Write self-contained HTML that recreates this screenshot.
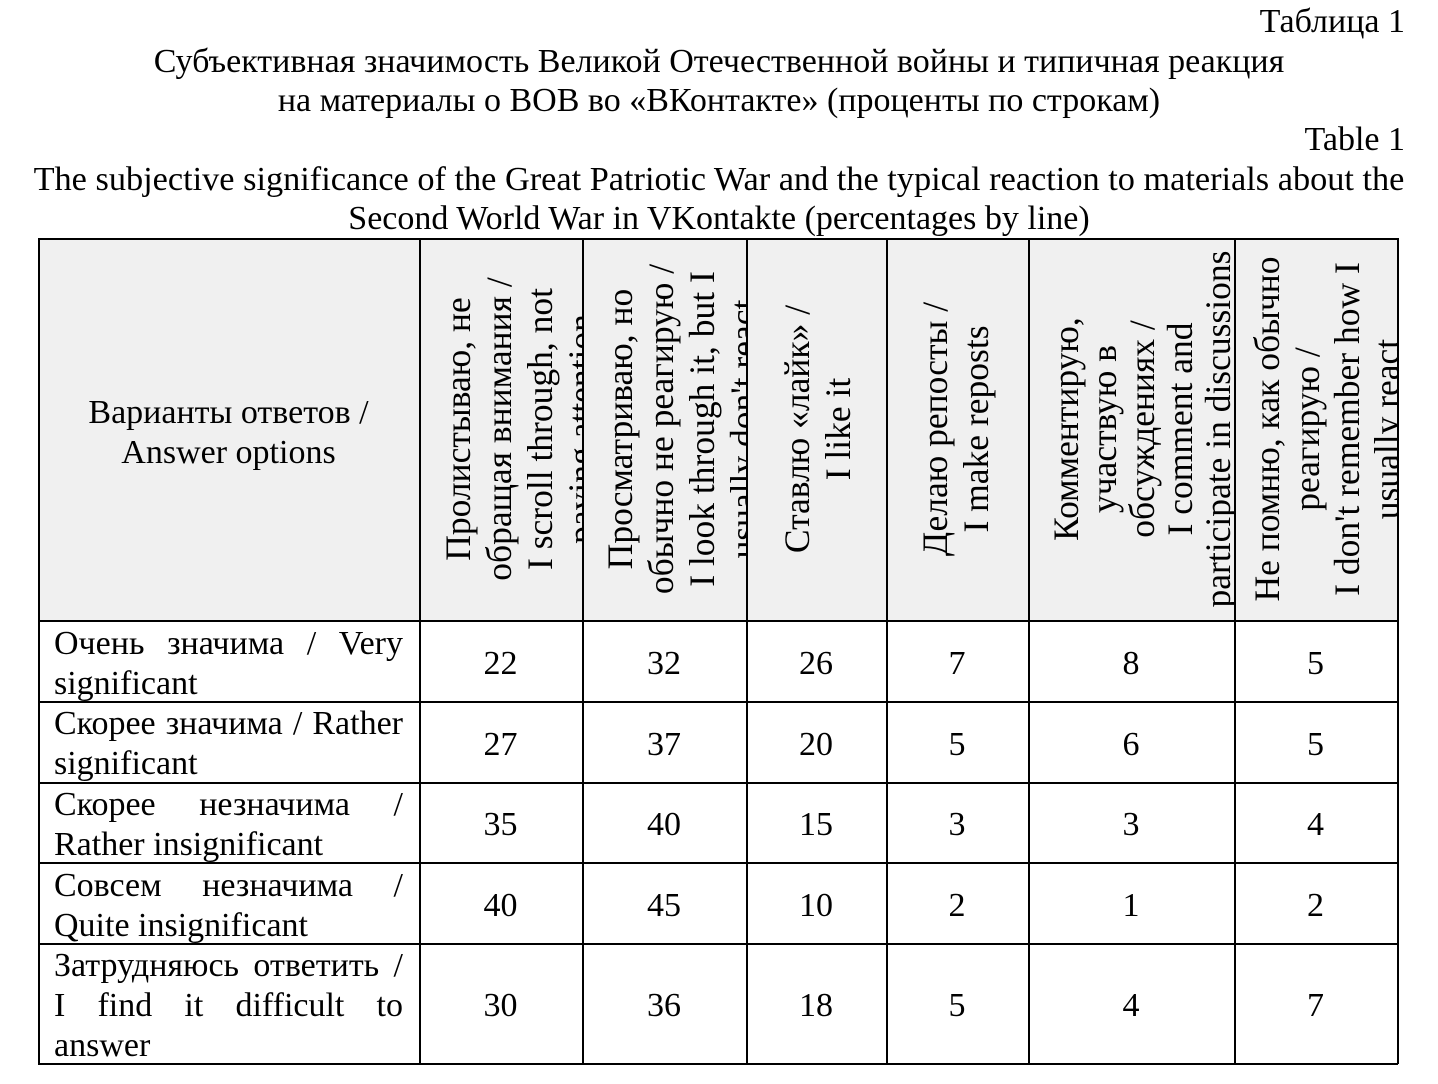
<!DOCTYPE html>
<html><head><meta charset="utf-8"><style>
body{margin:0;width:1438px;height:1084px;background:#fff;position:relative;overflow:hidden;font-family:"Liberation Serif","DejaVu Serif",serif;font-size:34px;color:#000}
.t{position:absolute;white-space:nowrap;line-height:39.5px}
.c{position:absolute;left:0;width:1438px;text-align:center}
.h{position:absolute;background:#f0f0f0;overflow:hidden}
.rot{position:absolute;left:0;top:0;transform-origin:0 0;text-align:center;line-height:41px;white-space:nowrap;font-size:35.5px}
.hl{position:absolute;background:#000;height:1.5px;left:38px;width:1360px}
.vl{position:absolute;background:#000;width:1.5px;top:238px;height:826px}
.n{position:absolute;text-align:center;line-height:40px}
.lab{position:absolute;left:54px;width:349px;line-height:40px;white-space:nowrap}
.j{text-align:justify;text-align-last:justify}
</style></head><body>
<div class="t" style="right:33px;top:2px">Таблица 1</div>
<div class="t c" style="top:42px">Субъективная значимость Великой Отечественной войны и типичная реакция</div>
<div class="t c" style="top:81px">на материалы о ВОВ во «ВКонтакте» (проценты по строкам)</div>
<div class="t" style="right:33px;top:120px">Table 1</div>
<div class="t c" style="top:160px;left:0;font-size:34.3px">The subjective significance of the Great Patriotic War and the typical reaction to materials about the</div>
<div class="t c" style="top:199px">Second World War in VKontakte (percentages by line)</div>

<div class="h" style="left:38px;top:238px;width:381px;height:382px"><div style="position:absolute;top:155px;width:381px;text-align:center;line-height:39.5px">Варианты ответов /<br>Answer options</div></div>
<div class="h" style="left:419px;top:238px;width:163px;height:382px"><div class="rot" style="width:382px;height:163px;transform:translateY(382px) rotate(-90deg);padding-top:19px;box-sizing:border-box">Пролистываю, не<br>обращая внимания /<br>I scroll through, not<br>paying attention</div></div>
<div class="h" style="left:582px;top:238px;width:164px;height:382px"><div class="rot" style="width:382px;height:164px;transform:translateY(382px) rotate(-90deg);padding-top:18px;box-sizing:border-box">Просматриваю, но<br>обычно не реагирую /<br>I look through it, but I<br>usually don't react</div></div>
<div class="h" style="left:746px;top:238px;width:140px;height:382px"><div class="rot" style="width:382px;height:140px;transform:translateY(382px) rotate(-90deg);padding-top:31px;box-sizing:border-box">Ставлю «лайк» /<br>I like it</div></div>
<div class="h" style="left:886px;top:238px;width:142px;height:382px"><div class="rot" style="width:382px;height:142px;transform:translateY(382px) rotate(-90deg);padding-top:29px;box-sizing:border-box">Делаю репосты /<br>I make reposts</div></div>
<div class="h" style="left:1028px;top:238px;width:206px;height:382px"><div class="rot" style="width:382px;height:206px;transform:translateY(382px) rotate(-90deg);padding-top:19px;box-sizing:border-box;line-height:38px">Комментирую,<br>участвую в<br>обсуждениях /<br>I comment and<br>participate in discussions</div></div>
<div class="h" style="left:1234px;top:238px;width:163px;height:382px"><div class="rot" style="width:382px;height:163px;transform:translateY(382px) rotate(-90deg);padding-top:13px;box-sizing:border-box;line-height:40px">Не помню, как обычно<br>реагирую /<br>I don't remember how I<br>usually react</div></div>

<div class="hl" style="top:238px"></div>
<div class="hl" style="top:620px"></div>
<div class="hl" style="top:701px"></div>
<div class="hl" style="top:782px"></div>
<div class="hl" style="top:862px"></div>
<div class="hl" style="top:943px"></div>
<div class="hl" style="top:1063px"></div>
<div class="vl" style="left:38px"></div>
<div class="vl" style="left:419px"></div>
<div class="vl" style="left:582px"></div>
<div class="vl" style="left:746px"></div>
<div class="vl" style="left:886px"></div>
<div class="vl" style="left:1028px"></div>
<div class="vl" style="left:1234px"></div>
<div class="vl" style="left:1397px"></div>

<div class="lab" style="top:624px"><div class="j">Очень значима / Very</div><div>significant</div></div>
<div class="lab" style="top:704px"><div class="j">Скорее значима / Rather</div><div>significant</div></div>
<div class="lab" style="top:785px"><div class="j">Скорее незначима /</div><div>Rather insignificant</div></div>
<div class="lab" style="top:866px"><div class="j">Совсем незначима /</div><div>Quite insignificant</div></div>
<div class="lab" style="top:946px"><div class="j">Затрудняюсь ответить /</div><div class="j">I find it difficult to</div><div>answer</div></div>

<div id="nums"></div>
<script>
var cols=[[419,582],[582,746],[746,886],[886,1028],[1028,1234],[1234,1397]];
var rows=[[620,701],[701,782],[782,862],[862,943],[943,1063]];
var d=[[22,32,26,7,8,5],[27,37,20,5,6,5],[35,40,15,3,3,4],[40,45,10,2,1,2],[30,36,18,5,4,7]];
var h='';
for(var r=0;r<5;r++)for(var c=0;c<6;c++){
var cy=(rows[r][0]+rows[r][1])/2;
h+='<div class="n" style="left:'+cols[c][0]+'px;width:'+(cols[c][1]-cols[c][0])+'px;top:'+(cy-17)+'px">'+d[r][c]+'</div>';}
document.getElementById('nums').innerHTML=h;
</script>
</body></html>
